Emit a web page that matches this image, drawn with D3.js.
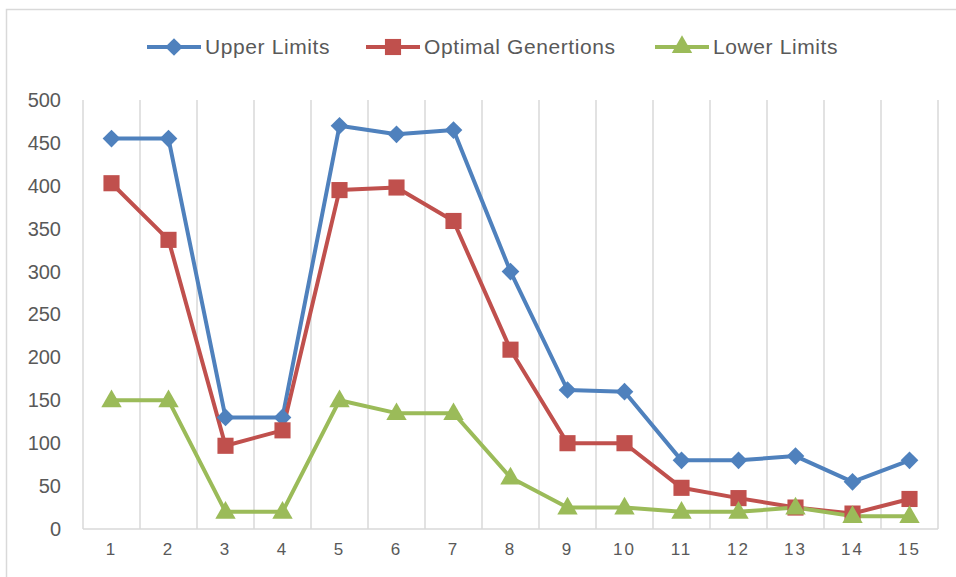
<!DOCTYPE html>
<html><head><meta charset="utf-8">
<script src="https://cdn.jsdelivr.net/npm/d3@7"></script>
<style>html,body{margin:0;padding:0;background:#fff;}svg{display:block;font-family:"Liberation Sans",Arial,sans-serif;}</style>
</head><body>
<svg id="c" width="956" height="577"></svg>
<script>
const categories = ["1","2","3","4","5","6","7","8","9","10","11","12","13","14","15"];
const upperLimits = [455,455,130,130,470,460,465,300,162,160,80,80,85,55,80];
const optimalGenerations = [403,337,97,115,395,398,359,209,100,100,48,36,25,18,35];
const lowerLimits = [150,150,20,20,150,135,135,60,25,25,20,20,25,15,15];
const seriesNames = ["Upper Limits","Optimal Genertions","Lower Limits"];
const yTicks = [0,50,100,150,200,250,300,350,400,450,500];

const colors = ["#4F81BD","#C0504D","#9BBB59"];
const symbols = [d3.symbolDiamond2, d3.symbolSquare, d3.symbolTriangle];
const symSizes = [200, 260, 180];
const series = [upperLimits, optimalGenerations, lowerLimits].map((v,i)=>({name:seriesNames[i], values:v, color:colors[i], symbol:symbols[i], size:symSizes[i]}));

const svg = d3.select("#c");
// chart border
svg.append("rect").attr("x",6.5).attr("y",9.5).attr("width",1000).attr("height",1000)
  .attr("fill","none").attr("stroke","#D9D9D9").attr("stroke-width",1.5);

const x = d3.scaleBand().domain(categories).range([83,938]).padding(0);
const y = d3.scaleLinear().domain([0,500]).range([529,100]);

// vertical gridlines at category boundaries
const bounds = categories.map(c=>x(c)).concat([x.range()[1]]);
svg.append("g").selectAll("line").data(bounds).join("line")
  .attr("x1",d=>d).attr("x2",d=>d).attr("y1",y(500)).attr("y2",y(0))
  .attr("stroke","#D9D9D9").attr("stroke-width",1.5);
// baseline
svg.append("line").attr("x1",x.range()[0]).attr("x2",x.range()[1]).attr("y1",y(0)).attr("y2",y(0))
  .attr("stroke","#D9D9D9").attr("stroke-width",1.5);

// y axis labels
const yAxis = d3.axisLeft(y).tickValues(yTicks).tickSize(0).tickPadding(0);
const gy = svg.append("g").attr("transform","translate(61,0)").call(yAxis);
gy.select(".domain").remove();
gy.selectAll("text").attr("font-size",20).attr("fill","#595959").attr("font-family","Liberation Sans, Arial, sans-serif");

// x axis labels
const xAxis = d3.axisBottom(x).tickSize(0).tickPadding(0);
const gx = svg.append("g").attr("transform","translate(0,543)").call(xAxis);
gx.select(".domain").remove();
gx.selectAll("text").attr("font-size",17).attr("fill","#595959").attr("letter-spacing","2px")
  .attr("font-family","Liberation Sans, Arial, sans-serif");

const cx = c => x(c) + x.bandwidth()/2;
const line = d3.line().x((d,i)=>cx(categories[i])).y(d=>y(d));

series.forEach(s=>{
  svg.append("path").datum(s.values).attr("d",line).attr("fill","none")
    .attr("stroke",s.color).attr("stroke-width",4).attr("stroke-linejoin","round");
});
series.forEach(s=>{
  const sym = d3.symbol().type(s.symbol).size(s.size);
  svg.append("g").selectAll("path").data(s.values).join("path")
    .attr("d",sym).attr("fill",s.color)
    .attr("transform",(d,i)=>`translate(${cx(categories[i])},${y(d) + (s.symbol===d3.symbolTriangle? 1:0)})`);
});

// legend
const legX = [147, 366, 655];
series.forEach((s,i)=>{
  const g = svg.append("g").attr("transform",`translate(${legX[i]},47)`);
  g.append("line").attr("x1",0).attr("x2",54).attr("y1",0).attr("y2",0).attr("stroke",s.color).attr("stroke-width",4);
  g.append("path").attr("d",d3.symbol().type(s.symbol).size(s.size)()).attr("fill",s.color).attr("transform","translate(27,0)");
  g.append("text").attr("x",58).attr("y",0).attr("dy","0.35em").attr("font-size",21).attr("letter-spacing","0.6px").attr("fill","#595959").text(s.name);
});
</script>
</body></html>
